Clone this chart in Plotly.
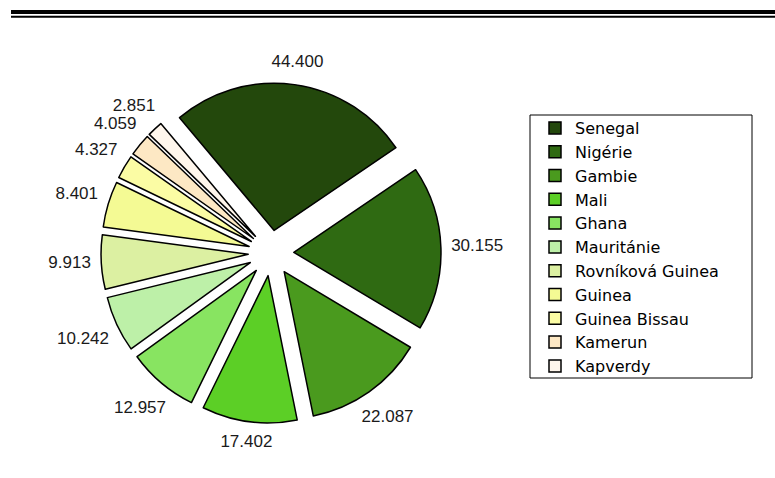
import math
import plotly.graph_objects as go

countries = ["Senegal", "Nigérie", "Gambie", "Mali", "Ghana", "Mauritánie",
             "Rovníková Guinea", "Guinea", "Guinea Bissau", "Kamerun", "Kapverdy"]
values = [44.400, 30.155, 22.087, 17.402, 12.957, 10.242, 9.913, 8.401, 4.327, 4.059, 2.851]
colors = ["#23480c", "#2f6a12", "#4a9a1e", "#5ccf26", "#88e461", "#bdf0a8",
          "#dcf0a2", "#f4fa94", "#fbfca4", "#fde8c4", "#fff6ec"]

W, H = 775, 478
cx, cy, R = 271, 253, 170      # pie centre and outer extent (px)
RL = 215                        # polar (label) frame half-size (px)
LABEL_GAP_R = 180               # radius where label boxes start
FS = 17                         # label font size
START = -40                     # first slice starts at 40 deg left of north

labels_txt = [f"{v:.3f}" for v in values]
total = sum(values)
mids, radii = [], []
acc = 0.0
for v, t in zip(values, labels_txt):
    th = START + (acc + v / 2) / total * 360
    acc += v
    half_w = (sum(0.278 if ch == "." else 0.556 for ch in t) * FS) / 2
    half_h = 0.5 * FS
    rad = math.radians(th)
    mids.append(th)
    radii.append(LABEL_GAP_R + half_w * abs(math.sin(rad)) + half_h * abs(math.cos(rad)))

fig = go.Figure()
fig.add_trace(go.Pie(
    labels=countries,
    values=values,
    sort=False,
    direction="clockwise",
    rotation=START,
    pull=[0.155] * len(values),
    marker=dict(colors=colors, line=dict(color="#000000", width=1.5)),
    textinfo="none",
    hoverinfo="skip",
    domain=dict(x=[(cx - R) / W, (cx + R) / W], y=[(H - cy - R) / H, (H - cy + R) / H]),
))
fig.add_trace(go.Scatterpolar(
    r=radii,
    theta=mids,
    mode="text",
    text=labels_txt,
    textposition="middle center",
    textfont=dict(family="Liberation Sans, Arial, sans-serif", size=FS, color="#1a1a1a"),
    hoverinfo="skip",
    showlegend=False,
    cliponaxis=False,
))

fig.update_layout(
    width=W, height=H,
    margin=dict(l=0, r=0, t=0, b=0),
    paper_bgcolor="white", plot_bgcolor="white",
    font=dict(family="Liberation Sans, Arial, sans-serif", color="#000000"),
    polar=dict(
        domain=dict(x=[(cx - RL) / W, (cx + RL) / W], y=[(H - cy - RL) / H, (H - cy + RL) / H]),
        bgcolor="rgba(0,0,0,0)",
        radialaxis=dict(visible=False, range=[0, RL]),
        angularaxis=dict(visible=False, rotation=90, direction="clockwise"),
    ),
    legend=dict(
        x=535 / W, y=(H - 111) / H, xanchor="left", yanchor="top",
        borderwidth=0, bgcolor="rgba(0,0,0,0)",
        font=dict(family="DejaVu Sans, sans-serif", size=16, color="#000000"),
        traceorder="normal",
    ),
    shapes=[
        dict(type="line", xref="paper", yref="paper", x0=11 / W, x1=1, y0=1 - 12 / H, y1=1 - 12 / H,
             line=dict(color="black", width=4)),
        dict(type="line", xref="paper", yref="paper", x0=11 / W, x1=1, y0=1 - 16.7 / H, y1=1 - 16.7 / H,
             line=dict(color="black", width=2)),
        dict(type="rect", xref="paper", yref="paper", layer="below",
             x0=530 / W, x1=752 / W, y0=1 - 378 / H, y1=1 - 115 / H,
             line=dict(color="#000000", width=1), fillcolor="white"),
    ],
)

fig.write_html("out.html", config={"displayModeBar": False},
               post_script="document.body.style.margin='0px';")
